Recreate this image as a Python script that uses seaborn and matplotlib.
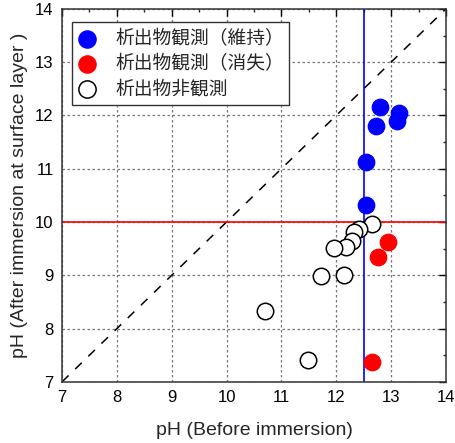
import matplotlib
matplotlib.use("Agg")
import matplotlib.pyplot as plt
from matplotlib.ticker import MultipleLocator
import seaborn as sns
import pandas as pd

# Data
kept_x = [12.80, 12.72, 13.15, 13.10, 12.54, 12.54]
kept_y = [12.15, 11.81, 12.05, 11.89, 11.12, 10.31]
lost_x = [12.94, 12.76, 12.65]
lost_y = [9.62, 9.35, 7.37]
none_x = [12.65, 12.42, 12.32, 12.28, 12.17, 11.95, 11.73, 12.14, 10.70, 11.49]
none_y = [9.97, 9.87, 9.81, 9.65, 9.54, 9.52, 8.98, 9.00, 8.33, 7.41]
labels = ["析出物観測（維持）", "析出物観測（消失）", "析出物非観測"]
ticks = [7, 8, 9, 10, 11, 12, 13, 14]
threshold_x = 12.5
threshold_y = 10

sns.set_theme(style="white")
plt.rcParams['font.family'] = ['Liberation Sans', 'Noto Sans CJK JP', 'DejaVu Sans']

df = pd.DataFrame({
    "x": kept_x + lost_x + none_x,
    "y": kept_y + lost_y + none_y,
    "g": [labels[0]] * len(kept_x) + [labels[1]] * len(lost_x) + [labels[2]] * len(none_x),
})

fig = plt.figure(figsize=(4.56, 4.43), dpi=100)
ax = fig.add_axes([0.136, 0.138, 0.842, 0.842])

ax.grid(True, which='major', linestyle=(0, (2, 2)), color='#777777', linewidth=0.9, zorder=0)
ax.plot([7, 14], [7, 14], linestyle=(0, (6, 6)), color='black', linewidth=1.1, zorder=1)
ax.axhline(threshold_y, color='red', linewidth=1.2, zorder=1)
ax.axvline(threshold_x, color='blue', linewidth=1.2, zorder=1)

size = 140
sns.scatterplot(data=df[df.g == labels[0]], x="x", y="y", ax=ax, color='blue',
                edgecolor='blue', s=size, label=labels[0], zorder=3)
sns.scatterplot(data=df[df.g == labels[1]], x="x", y="y", ax=ax, color='red',
                edgecolor='red', s=size, label=labels[1], zorder=3)
sns.scatterplot(data=df[df.g == labels[2]], x="x", y="y", ax=ax, facecolor='white',
                edgecolor='black', linewidth=1.1, s=size, label=labels[2], zorder=3)

ax.set_xlim(7, 14)
ax.set_ylim(7, 14)
ax.set_xticks(ticks)
ax.set_yticks(ticks)
ax.set_xticklabels([str(t) for t in ticks])
ax.set_yticklabels([str(t) for t in ticks])
ax.xaxis.set_minor_locator(MultipleLocator(0.5))
ax.yaxis.set_minor_locator(MultipleLocator(0.5))
ax.tick_params(which='major', direction='in', length=5, width=1, top=True, right=True,
               labelsize=12, colors='black', pad=6)
ax.tick_params(which='minor', direction='in', length=2.5, width=1, top=True, right=True)
for sp in ax.spines.values():
    sp.set_color('#333333')
    sp.set_linewidth(1.1)

ax.set_xlabel("pH (Before immersion)", fontsize=14, labelpad=12)
ax.set_ylabel("pH (After immersion at surface layer )", fontsize=14, labelpad=5)

leg = ax.legend(loc='upper left', bbox_to_anchor=(0.026, 0.964), frameon=True, fancybox=False,
                edgecolor='#333333', framealpha=1,
                prop={'family': ['Noto Sans CJK JP', 'DejaVu Sans'], 'size': 13.5},
                labelspacing=0.22, handletextpad=1.0, borderpad=0.3, handlelength=1.0,
                borderaxespad=0, markerscale=1.05)
leg.get_frame().set_linewidth(1.0)

fig.savefig("out.png", dpi=100)
